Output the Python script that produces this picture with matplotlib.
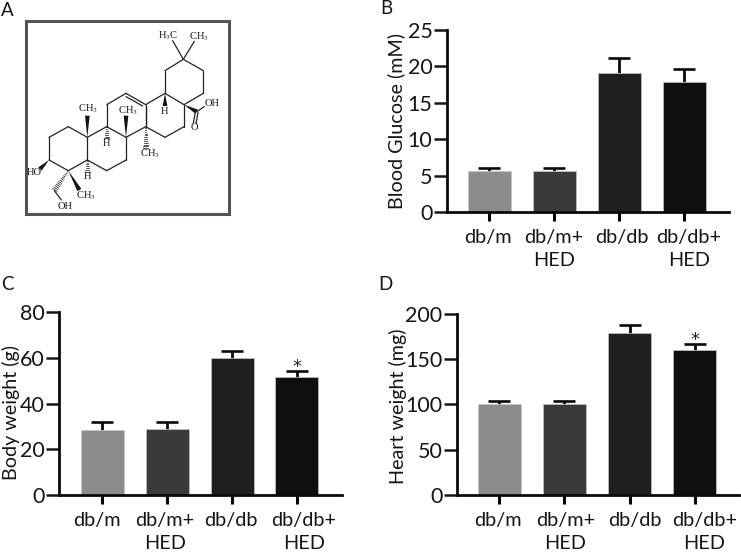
import matplotlib
matplotlib.use("Agg")
import matplotlib.pyplot as plt
from matplotlib.transforms import ScaledTranslation
import numpy as np

W, H = 741, 554
plt.rcParams['font.family'] = ['Lato', 'DejaVu Sans']

groups = ["db/m", "db/m+\nHED", "db/db", "db/db+\nHED"]
colors = ["#8c8c8c", "#3a3a3a", "#1f1f1f", "#0f0f0f"]

glucose = [5.7, 5.6, 19.1, 17.9]
glucose_top = [6.1, 6.0, 21.2, 19.7]
body = [28.5, 28.8, 60.0, 51.5]
body_top = [31.8, 31.8, 62.8, 54.3]
heart = [100.0, 100.8, 178.0, 159.6]
heart_top = [103.3, 103.3, 187.5, 166.0]

fig = plt.figure(figsize=(W / 100, H / 100), dpi=100)


def panel(x0, x1, ytop, ybot, c0, step, vals, tops, ymax, yticks, ylabel, ylab_x,
          ylab_y, offsets, stars=False):
    ax = fig.add_axes([x0 / W, 1 - ybot / H, (x1 - x0) / W, (ybot - ytop) / H])
    xs = np.arange(4)
    ax.bar(xs, vals, width=43 / step, color=colors, edgecolor="#c4c4c4", linewidth=0.5, zorder=2)
    ax.vlines(xs, vals, tops, color="#0a0a0a", lw=2.0, zorder=1)
    ax.hlines(tops, xs - 11 / step, xs + 11 / step, color="#0a0a0a", lw=1.9, zorder=1)
    ax.set_xlim((x0 - c0) / step, (x1 - c0) / step)
    ax.set_ylim(0, ymax)
    for s in ("top", "right"):
        ax.spines[s].set_visible(False)
    for s in ("left", "bottom"):
        ax.spines[s].set_linewidth(2.0)
        ax.spines[s].set_color("#0a0a0a")
    ax.set_yticks(yticks)
    ax.set_xticks(xs)
    ax.set_xticklabels(groups, fontsize=14.3, color="#151515", linespacing=1.42)
    ax.tick_params(axis="y", length=9.5, width=1.8, labelsize=15.5, pad=1, colors="#151515")
    ax.tick_params(axis="x", length=6.5, width=2.2, pad=6)
    for lab, dx in zip(ax.get_xticklabels(), offsets):
        lab.set_transform(lab.get_transform() + ScaledTranslation(dx / 100, 0, fig.dpi_scale_trans))
    fig.text(ylab_x / W, 1 - ylab_y / H, ylabel, rotation=90, ha="center", va="center",
             fontsize=14.2, color="#151515")
    if stars:
        ax.annotate("*", (3, tops[3]), xytext=(0, 3), textcoords="offset points", ha="center",
                    va="center", fontsize=13, family="DejaVu Sans", color="#222222",
                    annotation_clip=False)
    return ax


panel(447, 729, 30, 212, 489, 65, glucose, glucose_top, 25, [0, 5, 10, 15, 20, 25],
      "Blood Glucose (mM)", 396, 121, [-1, 0, 3, 5])
panel(59, 342, 312, 495, 102, 65, body, body_top, 80, [0, 20, 40, 60, 80],
      "Body weight (g)", 11, 412, [-5, -2, -1, 7], stars=True)
panel(457, 739, 313.5, 495, 499.3, 65.1, heart, heart_top, 200, [0, 50, 100, 150, 200],
      "Heart weight (mg)", 398, 406, [-1, 1, 5, 10], stars=True)

for letter, x, y in [("A", 7, 11), ("B", 386, 9), ("C", 7, 285), ("D", 385, 285)]:
    fig.text(x / W, 1 - y / H, letter, ha="center", va="center", fontsize=13.5, color="#151515")

# Panel A: structural formula, positions in a 3x zoomed pixel frame
mol = fig.add_axes([0, 0, 1, 1], facecolor="none")
mol.set_xlim(0, W * 3)
mol.set_ylim(H * 3, 0)
mol.axis("off")

frame_x = [77, 686, 686, 77, 77]
frame_y = [64, 64, 642, 642, 64]
mol.plot(frame_x, frame_y, color="#555555", lw=2.2, solid_joinstyle="miter")

bonds = [
    ((550, 178), (610, 212)), ((610, 212), (610, 280)), ((610, 280), (552, 314)),
    ((552, 314), (495, 280)), ((495, 280), (495, 212)), ((495, 212), (550, 178)),
    ((550, 178), (518, 122)), ((550, 178), (583, 124)),
    ((552, 314), (552, 380)), ((552, 380), (495, 412)), ((495, 412), (437, 380)),
    ((437, 380), (437, 314)), ((437, 314), (495, 280)),
    ((437, 314), (378, 280)), ((378, 280), (320, 314)), ((320, 314), (320, 380)),
    ((320, 380), (378, 412)), ((378, 412), (437, 380)),
    ((378, 412), (378, 480)), ((378, 480), (320, 512)), ((320, 512), (262, 480)),
    ((262, 480), (262, 412)), ((262, 412), (320, 380)),
    ((262, 412), (205, 380)), ((205, 380), (147, 412)), ((147, 412), (147, 480)),
    ((147, 480), (205, 512)), ((205, 512), (262, 480)),
    ((163, 572), (184, 600)), ((590, 335), (613, 320)),
    ((378, 290), (428, 318)), ((437, 322), (437, 372)),
    ((586, 336), (580, 370)), ((594, 337), (588, 371)),
]
for a, b in bonds:
    mol.plot([a[0], b[0]], [a[1], b[1]], color="#222222", lw=0.9, solid_capstyle="round")

wedges = [
    ((147, 480), (120, 507)), ((205, 512), (238, 570)), ((262, 412), (262, 347)),
    ((378, 412), (378, 347)), ((495, 280), (495, 318)), ((552, 314), (590, 335)),
]
for a, b in wedges:
    a, b = np.array(a, float), np.array(b, float)
    d = b - a
    n = np.array([-d[1], d[0]]) / np.hypot(*d)
    poly = np.array([a, b + n * 7, b - n * 7])
    mol.fill(poly[:, 0], poly[:, 1], color="#111111", lw=0)

hashes = [
    ((205, 512), (163, 572)), ((262, 480), (262, 518)), ((320, 380), (320, 420)),
    ((437, 380), (437, 448)),
]
for a, b in hashes:
    a, b = np.array(a, float), np.array(b, float)
    d = b - a
    L = np.hypot(*d)
    n = np.array([-d[1], d[0]]) / L
    for t in np.arange(0.06, 1.0, 5.5 / L):
        p = a + d * t
        w = 7.5 * t + 0.5
        mol.plot([p[0] - n[0] * w, p[0] + n[0] * w], [p[1] - n[1] * w, p[1] + n[1] * w],
                 color="#222222", lw=0.55)

atoms = [
    ("H$_3$C", 503, 108), ("CH$_3$", 596, 110), ("CH$_3$", 264, 327), ("CH$_3$", 383, 332),
    ("H", 320, 432), ("H", 263, 530), ("H", 494, 333), ("CH$_3$", 450, 462), ("OH", 635, 311),
    ("O", 582, 381), ("HO", 103, 517), ("CH$_3$", 258, 586), ("OH", 194, 619),
]
for s, x, y in atoms:
    mol.text(x, y, s, ha="center", va="center", fontsize=7.6, family="Liberation Serif",
             math_fontfamily="stix", color="#1a1a1a")

fig.savefig("out.png", dpi=100)
